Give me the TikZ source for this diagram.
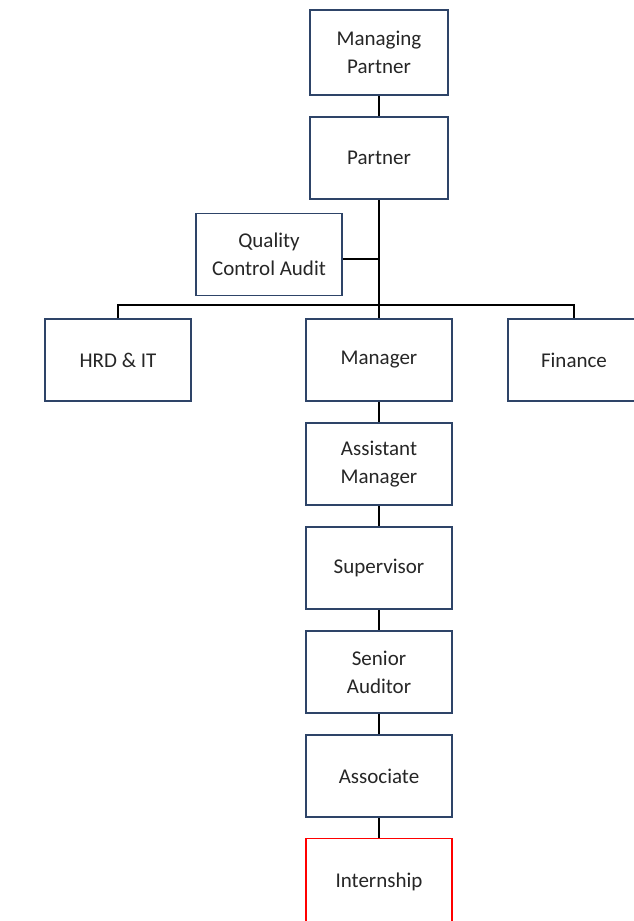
\documentclass[tikz,border=0pt]{standalone}
\usepackage{fontspec}
\setmainfont{Carlito}
\usetikzlibrary{positioning}

\begin{document}
\begin{tikzpicture}[x=1pt, y=1pt,
	box/.style={draw=boxblue, line width=1.5pt, fill=white, minimum width=146pt, minimum height=82pt,
		inner sep=0pt, align=center, text=black!85, font=\fontsize{21}{28}\selectfont},
	link/.style={draw=black, line width=1.5pt}]
	\definecolor{boxblue}{HTML}{2E4468}
	\useasboundingbox[fill=white] (0,0) rectangle (633,-921);

	\node[box, minimum width=138pt, minimum height=85pt] (mp) at (379,-52.5) {Managing\\Partner};
	\node[box, minimum width=138pt, below=20.5pt of mp] (p) {Partner};
	\node[box] (qca) at (269,-254.5) {Quality\\Control Audit};
	\node[box] (mgr) at (379,-360) {Manager};
	\node[box, left=113.5pt of mgr] (hrd) {HRD \& IT};
	\node[box, minimum width=132pt] (fin) at (574,-360) {Finance};
	\node[box, below=20.5pt of mgr] (asst) {Assistant\\Manager};
	\node[box, below=20.5pt of asst] (sup) {Supervisor};
	\node[box, below=20.5pt of sup] (sen) {Senior\\Auditor};
	\node[box, below=20.5pt of sen] (assoc) {Associate};
	\node[box, draw=red, line width=1.2pt, minimum height=100pt, text depth=18pt, below=20.5pt of assoc] (intern) {Internship};
	\coordinate (bus) at (379,-305);

	\draw[link] (mp) -- (p);
	\draw[link] (p) -- (mgr);
	\draw[link] ([yshift=-4.5pt]qca.east) -- ([yshift=-4.5pt]qca.east -| p.south);
	\draw[link] (hrd.north) |- (bus) -| (fin.north);
	\draw[link] (mgr) -- (asst);
	\draw[link] (asst) -- (sup);
	\draw[link] (sup) -- (sen);
	\draw[link] (sen) -- (assoc);
	\draw[link] (assoc) -- (intern);
\end{tikzpicture}
\end{document}
